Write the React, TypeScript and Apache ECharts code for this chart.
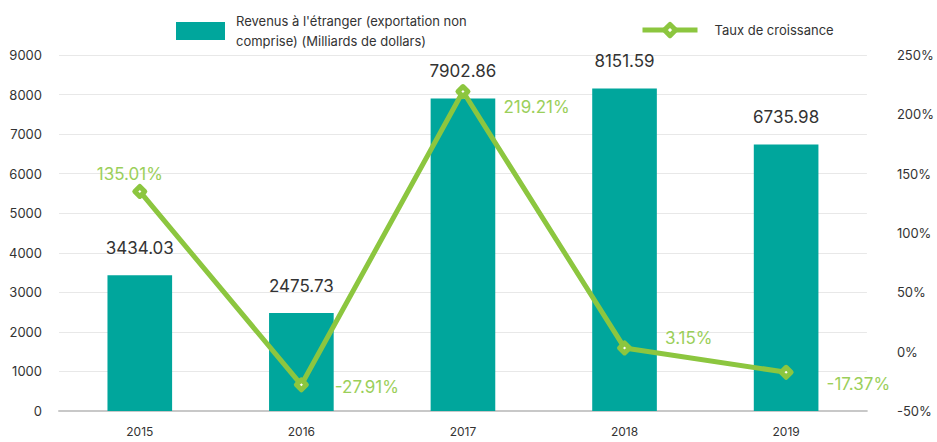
import React, { useEffect, useRef } from "react";
import * as echarts from "echarts";

const categories = ["2015", "2016", "2017", "2018", "2019"];
const revenues = [3434.03, 2475.73, 7902.86, 8151.59, 6735.98];
const growth = [135.01, -27.91, 219.21, 3.15, -17.37];
const barName = "Revenus à l'étranger (exportation non\ncomprise) (Milliards de dollars)";
const lineName = "Taux de croissance";

// label placement (layout only)
const growthLabelLayout = [
  { position: "top", offset: [-10, 4] },
  { position: "right", offset: [21, 2] },
  { position: "right", offset: [28, 15] },
  { position: "right", offset: [28, -10] },
  { position: "right", offset: [28, 12] },
];

const FONT = "Inter, 'Noto Sans', sans-serif";
const TEAL = "#00A69C";
const GREEN = "#8CC63F";
const GREEN_TXT = "#9BCF5A";

export default function App() {
  const ref = useRef<HTMLDivElement>(null);
  useEffect(() => {
    document.body.style.margin = "0";
    const chart = echarts.init(ref.current!, undefined, { renderer: "svg" });
    chart.setOption({
      animation: false,
      textStyle: { fontFamily: FONT },
      legend: [
        {
          data: [barName],
          left: 176,
          top: 11,
          padding: 0,
          itemWidth: 49,
          itemHeight: 18,
          icon: "rect",
          textStyle: { fontSize: 13, color: "#333", lineHeight: 20, padding: [0, 0, 0, 6], fontFamily: FONT },
        },
        {
          data: [lineName],
          left: 640,
          top: 22,
          padding: 0,
          itemWidth: 55,
          itemHeight: 14,
          lineStyle: { width: 5, color: GREEN },
          itemStyle: { color: "#ffffff", borderColor: GREEN, borderWidth: 5 },
          textStyle: { fontSize: 13, color: "#333", padding: [0, 0, 0, 12], fontFamily: FONT },
        },
      ],
      grid: { left: 59, right: 66, top: 55, bottom: 31 },
      xAxis: {
        type: "category",
        data: categories,
        axisTick: { show: false },
        axisLine: { lineStyle: { color: "#c8c8c8", width: 2 } },
        axisLabel: { color: "#333", fontSize: 12, margin: 14, fontFamily: FONT },
      },
      yAxis: [
        {
          type: "value",
          min: 0,
          max: 9000,
          interval: 1000,
          axisLine: { show: false },
          axisTick: { show: false },
          splitLine: { lineStyle: { color: "#e8e8e8" } },
          axisLabel: { color: "#333", fontSize: 13, margin: 17, fontFamily: FONT, formatter: (v: number) => String(v) },
        },
        {
          type: "value",
          min: -50,
          max: 250,
          interval: 50,
          axisLine: { show: false },
          axisTick: { show: false },
          splitLine: { show: false },
          axisLabel: { color: "#333", fontSize: 13, margin: 30, formatter: "{value}%", fontFamily: FONT },
        },
      ],
      series: [
        {
          name: barName,
          type: "bar",
          data: revenues,
          barWidth: "40%",
          itemStyle: { color: TEAL },
          label: {
            show: true,
            position: "top",
            distance: 19,
            color: "#333",
            fontSize: 17,
            fontFamily: FONT,
          },
        },
        {
          name: lineName,
          type: "line",
          yAxisIndex: 1,
          data: growth.map((v, i) => ({
            value: v,
            label: growthLabelLayout[i],
          })),
          symbol: "diamond",
          symbolSize: 10,
          lineStyle: { color: GREEN, width: 5 },
          itemStyle: { color: "#ffffff", borderColor: GREEN, borderWidth: 5, borderJoin: "round" },
          label: {
            show: true,
            formatter: (p: any) => p.value.toFixed(2) + "%",
            color: GREEN_TXT,
            fontSize: 17,
            fontFamily: FONT,
          },
        },
      ],
    });
    return () => chart.dispose();
  }, []);
  return <div ref={ref} style={{ width: 937, height: 442 }} />;
}
